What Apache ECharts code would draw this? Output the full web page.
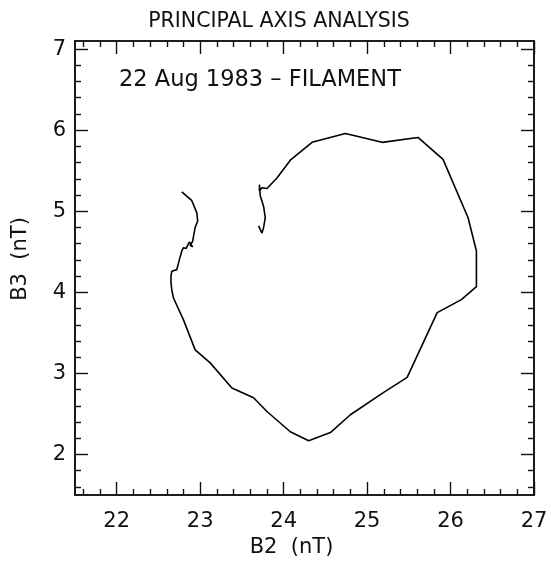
<!DOCTYPE html>
<html>
<head>
<meta charset="utf-8">
<script src="https://cdn.jsdelivr.net/npm/echarts@6/dist/echarts.min.js"></script>
<style>
  html, body { margin: 0; padding: 0; background: #fff; }
  #chart { width: 551px; height: 563px; }
</style>
</head>
<body>
<div id="chart"></div>
<script>
// trajectory in the principal-axis plane (nT)
const b2Values = [
  22.78, 22.90, 22.96, 22.97, 22.94, 22.92, 22.91, 22.88, 22.91, 22.87,
  22.83, 22.80, 22.78, 22.75, 22.72, 22.66, 22.65, 22.65, 22.66, 22.68,
  22.80, 22.94, 23.12, 23.38, 23.64, 23.80, 24.08, 24.30, 24.56, 24.80,
  25.19, 25.48, 25.84, 26.13, 26.31, 26.31, 26.21, 25.91, 25.61, 25.18,
  24.74, 24.34, 24.08, 23.92, 23.80, 23.74, 23.71, 23.71, 23.72, 23.76,
  23.78, 23.76, 23.74, 23.70
];
const b3Values = [
  5.24, 5.13, 4.98, 4.88, 4.80, 4.69, 4.63, 4.58, 4.56, 4.62,
  4.54, 4.55, 4.51, 4.40, 4.28, 4.26, 4.20, 4.12, 4.03, 3.93,
  3.66, 3.29, 3.13, 2.82, 2.70, 2.53, 2.28, 2.17, 2.27, 2.49,
  2.76, 2.95, 3.75, 3.91, 4.07, 4.51, 4.92, 5.64, 5.91, 5.85,
  5.96, 5.85, 5.63, 5.41, 5.28, 5.29, 5.25, 5.33, 5.19, 5.06,
  4.92, 4.80, 4.73, 4.82
];

const b2Ticks = [22, 23, 24, 25, 26, 27];
const b3Ticks = [2, 3, 4, 5, 6, 7];

const b2Range = [21.5, 27];
const b3Range = [1.5, 7.1];

const ink = "#111111";
const fontFamily = "DejaVu Sans";

function minorTicks(range, step) {
  const out = [];
  const start = Math.ceil(range[0] / step + 1e-6);
  const end = Math.floor(range[1] / step - 1e-6);
  for (let i = start; i <= end; i++) {
    const v = Number((i * step).toFixed(3));
    if (Math.abs(v - Math.round(v)) > 1e-6) {
      out.push(v);
    }
  }
  return out;
}

function frameAxis(range, position, ticks, length, labels) {
  return {
    type: "value",
    position: position,
    min: range[0],
    max: range[1],
    axisLine: { show: true, onZero: false, lineStyle: { color: ink, width: 1.6 } },
    axisTick: {
      show: true,
      inside: true,
      length: length,
      customValues: ticks,
      lineStyle: { color: ink, width: 1.4 }
    },
    axisLabel: labels
      ? {
          show: true,
          customValues: labels,
          color: ink,
          fontFamily: fontFamily,
          fontSize: 21,
          margin: position === "bottom" ? 16 : 9
        }
      : { show: false },
    splitLine: { show: false }
  };
}

const chart = echarts.init(document.getElementById("chart"), null, { renderer: "canvas" });

const xMain = frameAxis(b2Range, "bottom", b2Ticks, 13, b2Ticks);
xMain.name = "B2  (nT)";
xMain.nameLocation = "middle";
xMain.nameGap = 42;
xMain.nameTextStyle = { color: ink, fontFamily: fontFamily, fontSize: 21, padding: [0, 26, 0, 0] };

const yMain = frameAxis(b3Range, "left", b3Ticks, 13, b3Ticks);
yMain.name = "B3  (nT)";
yMain.nameLocation = "middle";
yMain.nameGap = 44;
yMain.nameTextStyle = { color: ink, fontFamily: fontFamily, fontSize: 21, padding: [0, 0, 0, 18] };

chart.setOption({
  animation: false,
  backgroundColor: "#ffffff",
  title: [
    {
      text: "PRINCIPAL AXIS ANALYSIS",
      left: 274,
      textAlign: "center",
      top: 6,
      textStyle: { color: ink, fontFamily: fontFamily, fontSize: 20.5, fontWeight: "normal" }
    },
    {
      text: "22 Aug 1983 – FILAMENT",
      left: 114,
      top: 64,
      textStyle: { color: ink, fontFamily: fontFamily, fontSize: 22.5, fontWeight: "normal" }
    }
  ],
  grid: { left: 75, right: 17, top: 41, bottom: 68, containLabel: false },
  xAxis: [
    xMain,
    frameAxis(b2Range, "bottom", minorTicks(b2Range, 0.2), 6, null),
    frameAxis(b2Range, "top", b2Ticks, 13, null),
    frameAxis(b2Range, "top", minorTicks(b2Range, 0.2), 6, null)
  ],
  yAxis: [
    yMain,
    frameAxis(b3Range, "left", minorTicks(b3Range, 0.2), 6, null),
    frameAxis(b3Range, "right", b3Ticks, 13, null),
    frameAxis(b3Range, "right", minorTicks(b3Range, 0.2), 6, null)
  ],
  series: [
    {
      type: "line",
      xAxisIndex: 0,
      yAxisIndex: 0,
      data: b2Values.map((b2, i) => [b2, b3Values[i]]),
      showSymbol: false,
      smooth: false,
      lineStyle: { color: "#000000", width: 1.6 }
    }
  ]
});
</script>
</body>
</html>
